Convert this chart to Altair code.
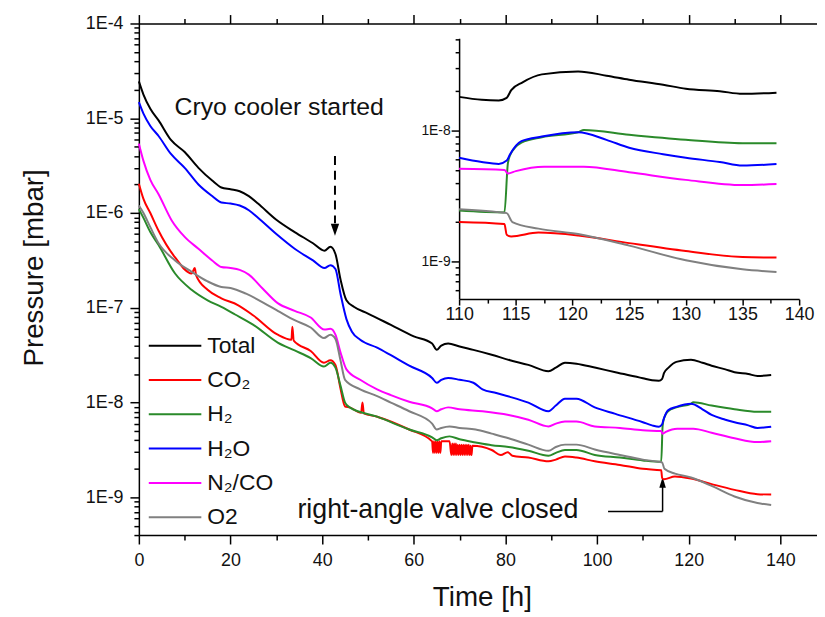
import altair as alt
import pandas as pd

FONT = "Liberation Sans"

# ---------------- data ----------------
gases = ["Total", "CO2", "H2", "H2O", "N2/CO", "O2"]
legend_labels = ["Total", "CO\u2082", "H\u2082", "H\u2082O", "N\u2082/CO", "O2"]
colors = ["#000000", "#ff0000", "#2a8a2a", "#0000ff", "#ff00ff", "#808080"]

total_t = [0, 1, 2.5, 4.3, 7, 10, 13, 16, 18, 20, 22, 24, 26, 30, 34, 38, 40.5, 41.8, 42.9, 44,
           45.3, 47, 50, 55, 60, 64, 65, 66, 67.5, 70, 73, 77, 81, 85, 89.4, 91, 93, 95.5, 99.5, 104,
           110, 112, 113.5, 114.2, 114.6, 115.6, 117.3, 120.5, 123, 125, 128, 130, 133, 135, 138]
total_p = [2.45e-5, 1.78e-5, 1.26e-5, 9.5e-6, 5.9e-6, 4.4e-6, 3.0e-6, 2.2e-6, 1.86e-6, 1.78e-6,
           1.70e-6, 1.51e-6, 1.26e-6, 8.5e-7, 6.3e-7, 4.8e-7, 4.0e-7, 4.4e-7, 3.7e-7, 2.0e-7,
           1.2e-7, 1.02e-7, 8.7e-8, 6.6e-8, 5.0e-8, 4.2e-8, 3.6e-8, 4.0e-8, 4.2e-8, 3.9e-8,
           3.6e-8, 3.2e-8, 2.8e-8, 2.5e-8, 2.14e-8, 2.34e-8, 2.63e-8, 2.57e-8, 2.34e-8, 2.09e-8,
           1.81e-8, 1.72e-8, 1.70e-8, 1.78e-8, 2.04e-8, 2.34e-8, 2.69e-8, 2.83e-8, 2.63e-8, 2.45e-8,
           2.24e-8, 2.09e-8, 2.0e-8, 1.91e-8, 1.95e-8]

co2_t = [0, 1, 2.5, 4.3, 7.9, 11.5, 12.2, 12.5, 15, 18, 21.6, 25, 30.3, 33.3, 33.5, 33.8, 37.5,
         40.4, 41.8, 42.9, 44, 45, 46, 48.5, 48.8, 49.1, 52, 59, 64,
         64.2, 64.4, 64.6, 64.8, 65.0, 65.2, 65.4, 65.6, 65.8, 66, 67.8,
         68.2, 68.4, 68.6, 68.8, 69.0, 69.2, 69.4, 69.6, 69.8, 70.0, 70.2, 70.4,
         70.6, 70.8, 71.0, 71.2, 71.4, 71.6, 71.8, 72.0, 72.2, 72.4, 72.6, 72.8,
         77, 79, 80.5, 81.5, 85, 89.4, 91, 93, 95.5, 99.5, 105, 110, 114, 114.2, 114.6, 117, 120.5,
         125, 130, 135, 138]
co2_p = [2.04e-6, 1.41e-6, 1.0e-6, 6.5e-7, 3.4e-7, 2.3e-7, 2.63e-7, 2.2e-7, 1.55e-7, 1.26e-7,
         1.07e-7, 8.3e-8, 5.2e-8, 4.6e-8, 6.3e-8, 4.5e-8, 3.5e-8, 2.63e-8, 2.8e-8, 2.5e-8,
         1.41e-8, 9.1e-9, 8.9e-9, 7.8e-9, 1.0e-8, 7.7e-9, 7.1e-9, 5.2e-9, 3.9e-9,
         2.95e-9, 3.9e-9, 2.95e-9, 3.9e-9, 2.95e-9, 3.9e-9, 2.95e-9, 3.9e-9, 2.95e-9, 3.9e-9, 3.9e-9,
         2.8e-9, 3.7e-9, 2.8e-9, 3.7e-9, 2.8e-9, 3.7e-9, 2.8e-9, 3.6e-9, 2.8e-9, 3.6e-9, 2.8e-9, 3.6e-9,
         2.8e-9, 3.6e-9, 2.8e-9, 3.6e-9, 2.8e-9, 3.6e-9, 2.8e-9, 3.6e-9, 2.8e-9, 3.5e-9, 2.8e-9, 3.5e-9,
         3.16e-9, 2.8e-9, 3.0e-9, 2.75e-9, 2.63e-9, 2.4e-9, 2.5e-9, 2.7e-9, 2.63e-9, 2.4e-9, 2.2e-9,
         2.0e-9, 1.93e-9, 1.6e-9, 1.55e-9, 1.66e-9, 1.58e-9, 1.38e-9, 1.2e-9, 1.08e-9, 1.07e-9]

h2_t = [0, 1, 2.5, 4.3, 7.9, 11.5, 15, 18, 21, 25, 30.3, 34, 37.5, 40.4, 41.8, 42.9, 44, 45, 46, 52,
        59, 64, 65, 66, 67.8, 70, 73.5, 77, 80.7, 85, 89.4, 91, 93, 95.5, 99.5, 105, 110, 114,
        114.3, 114.5, 115.5, 117.3, 120.5, 121, 125, 130, 135, 138]
h2_p = [1.10e-6, 8.9e-7, 6.3e-7, 4.6e-7, 2.3e-7, 1.55e-7, 1.20e-7, 1.02e-7, 8.5e-8, 6.6e-8,
        4.3e-8, 3.55e-8, 2.95e-8, 2.4e-8, 2.63e-8, 2.34e-8, 1.51e-8, 1.0e-8, 8.9e-9, 7.1e-9,
        5.2e-9, 4.3e-9, 4.0e-9, 4.2e-9, 4.4e-9, 4.1e-9, 3.8e-9, 3.55e-9, 3.4e-9, 3.1e-9,
        2.75e-9, 2.95e-9, 3.16e-9, 3.16e-9, 2.8e-9, 2.63e-9, 2.45e-9, 2.37e-9, 5.6e-9, 6.5e-9,
        8.1e-9, 8.9e-9, 9.7e-9, 1.01e-8, 9.3e-9, 8.5e-9, 8.0e-9, 8.0e-9]

h2o_t = [0, 1, 2.5, 4.3, 7, 10, 13, 16, 18, 20, 22, 24, 26, 30, 34, 38, 40.5, 41.8, 42.9, 44,
         45.3, 46.5, 48.3, 52, 55, 59, 64, 65, 66, 67.5, 70, 73, 75, 78, 81, 85, 89.4, 91, 93, 95.5,
         99.5, 104, 110, 112, 113.5, 114.2, 114.5, 115.5, 117.3, 120.5, 123, 125, 128, 130, 133, 135, 138]
h2o_p = [1.48e-5, 1.12e-5, 8.3e-6, 6.5e-6, 4.2e-6, 3.0e-6, 2.0e-6, 1.51e-6, 1.29e-6, 1.26e-6,
         1.20e-6, 1.07e-6, 8.9e-7, 6.0e-7, 4.2e-7, 3.16e-7, 2.63e-7, 2.82e-7, 2.57e-7, 1.41e-7,
         7.6e-8, 5.6e-8, 4.6e-8, 3.8e-8, 3.16e-8, 2.45e-8, 1.82e-8, 1.62e-8, 1.74e-8, 1.82e-8,
         1.74e-8, 1.62e-8, 1.38e-8, 1.26e-8, 1.15e-8, 1.0e-8, 8.1e-9, 9.3e-9, 1.10e-8, 1.10e-8,
         8.9e-9, 7.6e-9, 6.2e-9, 5.75e-9, 5.56e-9, 5.9e-9, 6.6e-9, 8.3e-9, 9.0e-9, 9.7e-9,
         8.5e-9, 7.4e-9, 6.6e-9, 6.2e-9, 5.75e-9, 5.4e-9, 5.56e-9]

n2co_t = [0, 1, 2.5, 4.3, 7.2, 10, 13, 16, 18, 20, 22, 24, 27, 30.3, 34, 37.5, 40.5, 41.8, 42.9, 44,
          45.3, 48.3, 52, 55, 59, 64, 65, 66, 67.5, 70, 75, 80.7, 85, 89.4, 91, 93, 95.5, 99.5, 105,
          110, 114, 114.3, 115, 117.5, 121, 125, 130, 135, 138]
n2co_p = [5.4e-6, 3.55e-6, 2.24e-6, 1.58e-6, 8.3e-7, 5.6e-7, 4.2e-7, 3.16e-7, 2.7e-7, 2.63e-7,
          2.51e-7, 2.24e-7, 1.6e-7, 1.12e-7, 9.3e-8, 7.9e-8, 5.9e-8, 6.0e-8, 5.2e-8, 3.4e-8,
          2.24e-8, 1.74e-8, 1.38e-8, 1.20e-8, 1.02e-8, 8.7e-9, 8.1e-9, 8.5e-9, 8.9e-9, 8.5e-9,
          8.1e-9, 7.4e-9, 6.6e-9, 5.6e-9, 6.0e-9, 6.3e-9, 6.3e-9, 5.6e-9, 5.4e-9, 5.1e-9,
          5.0e-9, 4.7e-9, 4.9e-9, 5.3e-9, 5.3e-9, 4.8e-9, 4.2e-9, 3.83e-9, 3.9e-9]

o2_t = [0, 1, 2.5, 4.3, 7.9, 11.5, 15, 18, 20, 23.4, 28.8, 30.3, 34, 37.5, 40.4, 41.8, 42.9, 44, 45,
        48.3, 52, 55, 59, 64, 65, 66, 67.8, 70, 73.5, 77, 80.7, 85, 89.4, 91, 93, 95.5, 99.5, 105,
        110, 113.6, 114.2, 114.7, 117, 120.5, 125, 130, 135, 138]
o2_p = [1.20e-6, 1.0e-6, 7.1e-7, 4.8e-7, 3.16e-7, 2.4e-7, 1.9e-7, 1.66e-7, 1.62e-7, 1.41e-7,
        1.02e-7, 9.3e-8, 7.4e-8, 6.2e-8, 4.8e-8, 5.2e-8, 4.7e-8, 2.8e-8, 1.74e-8, 1.38e-8,
        1.17e-8, 1.0e-8, 8.1e-9, 6.0e-9, 5.2e-9, 5.4e-9, 5.6e-9, 5.4e-9, 5.2e-9, 4.7e-9,
        4.2e-9, 3.6e-9, 3.1e-9, 3.4e-9, 3.6e-9, 3.6e-9, 3.2e-9, 2.8e-9, 2.5e-9, 2.37e-9,
        2.34e-9, 2.0e-9, 1.78e-9, 1.62e-9, 1.32e-9, 1.02e-9, 8.7e-10, 8.3e-10]

x_major_ticks = [0, 20, 40, 60, 80, 100, 120, 140]
x_minor_ticks = [10, 30, 50, 70, 90, 110, 130]
y_major_ticks = [1e-9, 1e-8, 1e-7, 1e-6, 1e-5, 1e-4]
inset_x_ticks = [110, 115, 120, 125, 130, 135, 140]
inset_x_minor = [112.5, 117.5, 122.5, 127.5, 132.5, 137.5]
inset_y_ticks = [1e-9, 1e-8]

# ---------------- build tables ----------------
all_t = [total_t, co2_t, h2_t, h2o_t, n2co_t, o2_t]
all_p = [total_p, co2_p, h2_p, h2o_p, n2co_p, o2_p]
df = pd.concat(
    [pd.DataFrame({"t": ts, "p": ps, "gas": g}) for g, ts, ps in zip(gases, all_t, all_p)],
    ignore_index=True,
)

y_minor_ticks = [k * 10.0 ** e for e in range(-10, -4) for k in range(2, 10)
                 if 3.9e-10 < k * 10.0 ** e < 1e-4]
inset_y_minor = [k * 10.0 ** e for e in range(-10, -7) for k in range(2, 10)
                 if 5.1e-10 < k * 10.0 ** e < 5.1e-8]

W, H = 684, 516
LBL = "'1E' + round(log(datum.value) / LN10)"

xs = alt.Scale(domain=[0, 148], nice=False, zero=False)
ys = alt.Scale(type="log", domain=[4e-10, 1e-4], nice=False)
ixs = alt.Scale(domain=[110, 140], range=[323, 666], nice=False, zero=False)
iys = alt.Scale(type="log", domain=[5.15e-10, 5.07e-8], range=[278, 15], nice=False)

ax_x_major = alt.Axis(orient="bottom", values=x_major_ticks, tickSize=9, labelPadding=8,
                      labelFontSize=18, labelFlush=False, title="Time [h]", titleFontSize=28,
                      titleX=346, titleY=71, titleBaseline="alphabetic", titleAlign="center")
ax_x_minor = alt.Axis(orient="bottom", values=x_minor_ticks, tickSize=5, labels=False,
                      domain=False, title=None)
ax_top_major = alt.Axis(orient="top", values=x_major_ticks, tickSize=9, labels=False, title=None)
ax_top_minor = alt.Axis(orient="top", values=x_minor_ticks, tickSize=5, labels=False,
                        domain=False, title=None)
ax_y_major = alt.Axis(orient="left", values=y_major_ticks, tickSize=9, labelPadding=7,
                      labelFontSize=18, labelExpr=LBL, labelFlush=False,
                      title="Pressure [mbar]", titleFontSize=28, titleAngle=270,
                      titleX=-97, titleY=246, titleBaseline="alphabetic", titleAlign="center")
ax_y_minor = alt.Axis(orient="left", values=y_minor_ticks, tickSize=5, labels=False,
                      domain=False, title=None)

iax_x_major = alt.Axis(orient="bottom", values=inset_x_ticks, tickSize=6, labelPadding=1,
                       labelFontSize=18, labelFlush=False, offset=-238, title=None)
iax_x_minor = alt.Axis(orient="bottom", values=inset_x_minor, tickSize=4, labels=False,
                       domain=False, offset=-238, title=None)
iax_y_major = alt.Axis(orient="left", values=inset_y_ticks, tickSize=8, labelPadding=1,
                       labelFontSize=14, labelExpr=LBL, labelFlush=False, offset=-323, title=None)
iax_y_minor = alt.Axis(orient="left", values=inset_y_minor, tickSize=4, labels=False,
                       domain=False, offset=-323, title=None)


def line(gas, color, xscale, yscale, xaxis, yaxis, tmin=None):
    ch = alt.Chart(df).transform_filter(alt.datum.gas == gas)
    if tmin is not None:
        ch = ch.transform_filter(alt.datum.t >= tmin)
    return ch.mark_line(color=color, strokeWidth=2, interpolate="monotone").encode(
        x=alt.X("t:Q", scale=xscale, axis=xaxis),
        y=alt.Y("p:Q", scale=yscale, axis=yaxis),
    )


def ghost(xscale, yscale, xaxis, yaxis):
    return alt.Chart(df).mark_point(opacity=0).encode(
        x=alt.X("t:Q", scale=xscale, axis=xaxis),
        y=alt.Y("p:Q", scale=yscale, axis=yaxis),
    )


# ---------------- main panel ----------------
main_lines = []
for i, (g, c) in enumerate(zip(gases, colors)):
    main_lines.append(line(g, c, xs, ys,
                           ax_x_major if i == 0 else None,
                           ax_y_major if i == 0 else None))

guides = [
    ghost(xs, ys, ax_x_minor, ax_y_minor),
    ghost(xs, ys, ax_top_major, None),
    ghost(xs, ys, ax_top_minor, None),
]

X = lambda f="t": alt.X(f"{f}:Q", scale=xs, axis=None)
Y = lambda f="p": alt.Y(f"{f}:Q", scale=ys, axis=None)

cryo_text = alt.Chart(pd.DataFrame({"t": [7.8], "p": [1.09e-5], "label": ["Cryo cooler started"]})) \
    .mark_text(align="left", baseline="alphabetic", fontSize=25, font=FONT, color="#111") \
    .encode(x=X(), y=Y(), text="label:N")
cryo_arrow = alt.Chart(pd.DataFrame({"t": [42.8], "p": [4.0e-6], "p2": [7.8e-7]})) \
    .mark_rule(strokeDash=[9, 6], strokeWidth=2, color="black") \
    .encode(x=X(), y=Y(), y2="p2:Q")
cryo_head = alt.Chart(pd.DataFrame({"t": [42.8], "p": [6.67e-7]})) \
    .mark_point(shape="M-0.7,-1L0.7,-1L0,1Z", size=144, filled=True, color="black",
                opacity=1, strokeWidth=0) \
    .encode(x=X(), y=Y())

valve_text = alt.Chart(pd.DataFrame({"t": [34.6], "p": [6.0e-10], "label": ["right-angle valve closed"]})) \
    .mark_text(align="left", baseline="alphabetic", fontSize=27, font=FONT, color="#111") \
    .encode(x=X(), y=Y(), text="label:N")
valve_h = alt.Chart(pd.DataFrame({"t": [102.4], "t2": [114.3], "p": [7.1e-10]})) \
    .mark_rule(strokeWidth=1.5, color="black") \
    .encode(x=X(), x2="t2:Q", y=Y())
valve_v = alt.Chart(pd.DataFrame({"t": [114.3], "p": [7.1e-10], "p2": [1.3e-9]})) \
    .mark_rule(strokeWidth=1.5, color="black") \
    .encode(x=X(), y=Y(), y2="p2:Q")
valve_head = alt.Chart(pd.DataFrame({"t": [114.3], "p": [1.44e-9]})) \
    .mark_point(shape="M-0.6,1L0.6,1L0,-1Z", size=121, filled=True, color="black",
                opacity=1, strokeWidth=0) \
    .encode(x=X(), y=Y())

main = alt.layer(*guides, cryo_text, cryo_arrow, cryo_head, valve_text, valve_h, valve_v,
                 valve_head, *main_lines).resolve_axis(x="independent", y="independent")

# ---------------- inset ----------------
inset_lines = []
for i, (g, c) in enumerate(zip(gases, colors)):
    inset_lines.append(line(g, c, ixs, iys,
                            iax_x_major if i == 0 else None,
                            iax_y_major if i == 0 else None, tmin=110))
inset = alt.layer(ghost(ixs, iys, iax_x_minor, iax_y_minor), *inset_lines) \
    .resolve_axis(x="independent", y="independent")

# ---------------- legend ----------------
leg_df = pd.DataFrame({"label": legend_labels, "color": colors})
leg_y = alt.Y("label:N", sort=legend_labels,
              scale=alt.Scale(type="point", domain=legend_labels, range=[325, 498], padding=0),
              axis=None)
leg_rule = alt.Chart(leg_df).mark_rule(strokeWidth=2).encode(
    x=alt.value(10), x2=alt.value(63), y=leg_y, color=alt.Color("color:N", scale=None))
leg_text = alt.Chart(leg_df).mark_text(align="left", baseline="middle", fontSize=23,
                                       font=FONT, color="#111").encode(
    x=alt.value(69), y=leg_y, text="label:N")
legend = alt.layer(leg_rule, leg_text)

chart = alt.layer(main, inset, legend).resolve_scale(x="independent", y="independent") \
    .properties(width=W, height=H,
                padding={"left": 132, "top": 13, "right": 0, "bottom": 78},
                autosize=alt.AutoSizeParams(type="none")) \
    .configure_view(stroke=None) \
    .configure_axis(labelFont=FONT, titleFont=FONT, labelColor="#111", titleColor="#111",
                    domainColor="black", tickColor="black", domainWidth=1.5, tickWidth=1.5,
                    grid=False, titleFontWeight="normal", labelOverlap=False)

chart.save("out.html", embed_options={"renderer": "svg", "actions": False})
